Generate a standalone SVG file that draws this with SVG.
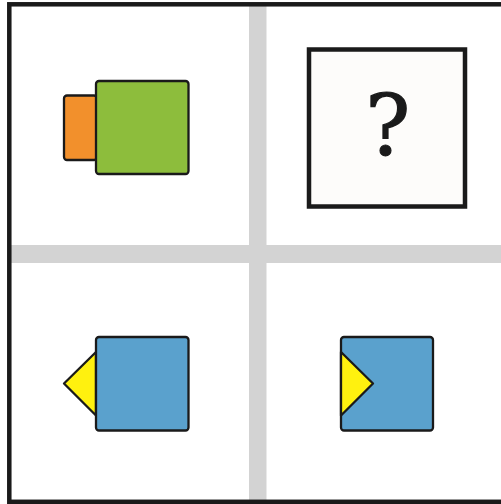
<svg xmlns="http://www.w3.org/2000/svg" width="501" height="504" viewBox="0 0 501 504">
<style>
.shape{stroke:#1a1a1a;stroke-width:2.3;stroke-linejoin:round}
.green{fill:#8dbd3c}.orange{fill:#f2902c}.blue{fill:#5aa1cd}.yellow{fill:#fff10f}
.div{fill:#d3d3d3}
</style>
<rect x="0" y="0" width="501" height="504" fill="#ffffff"/>
<g id="dividers">
<rect class="div" x="249" y="4" width="17.5" height="498"/>
<rect class="div" x="9" y="245" width="495" height="18"/>
</g>
<rect id="frame" x="9.3" y="4.3" width="500" height="497.5" fill="none" stroke="#1a1a1a" stroke-width="4.5"/>
<g id="cell-tl">
<rect class="shape orange" x="64" y="95.5" width="33" height="64.5" rx="3"/>
<rect class="shape green" x="96" y="81" width="92.5" height="93" rx="3"/>
</g>
<g id="cell-tr">
<rect x="309" y="49.5" width="156" height="157" fill="#fdfcfa" stroke="#1a1a1a" stroke-width="4.5"/>
<text x="387.8" y="155" text-anchor="middle" font-family="DejaVu Serif, serif" font-size="84" fill="#1a1a1a" stroke="#1a1a1a" stroke-width="1.2">?</text>
</g>
<g id="cell-bl">
<path class="shape yellow" d="M96,352 L64,383.5 L96,415.5 Z"/>
<rect class="shape blue" x="96" y="337" width="92.5" height="93.5" rx="3"/>
</g>
<g id="cell-br">
<rect class="shape blue" x="341" y="337" width="92" height="93.5" rx="3"/>
<path class="shape yellow" d="M341,352 L373,383.5 L341,415.5 Z"/>
</g>
</svg>
